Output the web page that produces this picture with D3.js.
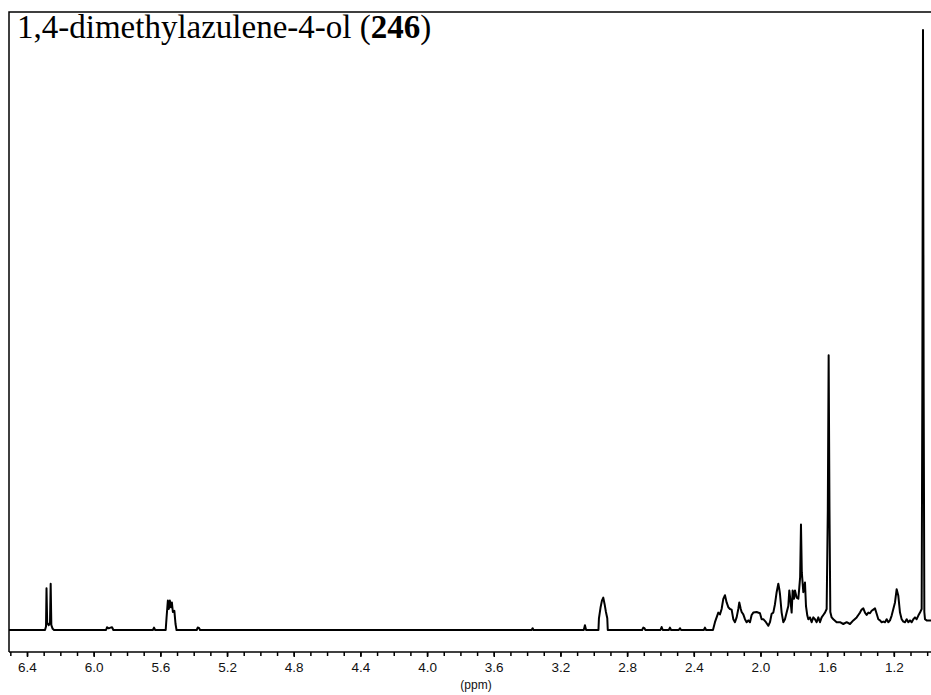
<!DOCTYPE html>
<html>
<head>
<meta charset="utf-8">
<script src="https://cdn.jsdelivr.net/npm/d3@7"></script>
<style>
  html, body { margin: 0; padding: 0; background: #fff; }
  svg { display: block; }
</style>
</head>
<body>
<svg id="chart" width="931" height="695"></svg>
<script>
// ---------- DATA (ppm, relative intensity) ----------
const titlePlain = "1,4-dimethylazulene-4-ol (";
const titleBold = "246";
const titleEnd = ")";
const axisLabel = "(ppm)";
const majorTicks = [6.4, 6.0, 5.6, 5.2, 4.8, 4.4, 4.0, 3.6, 3.2, 2.8, 2.4, 2.0, 1.6, 1.2];
const ppmDomain = [6.508, 0.977];
const intensityDomain = [0, 100];

const olefinicRegion = [
  [6.508,0],[6.292,0],[6.286,0.6],[6.283,6.95],[6.279,1.2],[6.270,0.8],[6.262,1.2],[6.258,7.7],[6.254,0.8],[6.246,0.2],[6.238,0],
  [5.926,0],[5.920,0.45],[5.912,0.3],[5.904,0.35],[5.890,0.45],[5.882,0],
  [5.645,0],[5.638,0.4],[5.631,0],
  [5.568,0],[5.563,2.0],[5.555,4.9],[5.549,3.5],[5.543,4.9],[5.537,3.8],[5.531,4.6],[5.525,3.0],[5.516,3.2],[5.509,1.0],[5.503,0],
  [5.382,0],[5.376,0.4],[5.368,0.35],[5.362,0]
];

const midRegion = [
  [3.373,0],[3.367,0.3],[3.361,0],
  [3.060,0],[3.053,0.8],[3.046,0],
  [2.972,0],[2.969,1.95],[2.959,3.8],[2.951,4.9],[2.943,5.4],[2.935,4.3],[2.927,3.0],[2.919,1.95],[2.916,0],
  [2.710,0],[2.703,0.4],[2.696,0.3],[2.690,0],
  [2.600,0],[2.593,0.5],[2.586,0],
  [2.550,0],[2.543,0.4],[2.536,0],
  [2.490,0],[2.483,0.3],[2.476,0],
  [2.340,0],[2.333,0.4],[2.326,0],
  [2.285,0]
];

const aliphaticRegion = [
  [2.273,1.3],[2.253,2.9],[2.243,2.6],[2.233,3.5],[2.223,5.2],[2.213,5.8],[2.203,4.6],[2.193,3.8],[2.183,3.5],[2.173,3.4],
  [2.163,1.8],[2.153,1.3],[2.143,2.1],[2.133,3.5],[2.127,4.6],[2.119,3.6],[2.113,3.0],[2.103,2.6],[2.093,1.8],[2.083,1.3],
  [2.073,1.6],[2.063,1.3],[2.053,2.5],[2.043,2.9],[2.023,3.0],[2.003,2.8],[1.993,1.8],[1.983,1.8],[1.967,1.3],[1.953,0.7],
  [1.943,1.3],[1.933,2.7],[1.923,2.9],[1.913,4.3],[1.903,6.3],[1.893,7.7],[1.887,6.8],[1.883,6.0],[1.873,2.9],[1.863,1.3],
  [1.853,1.8],[1.843,2.9],[1.833,4.0],[1.827,6.6],[1.819,4.6],[1.813,2.9],[1.807,6.6],[1.799,5.2],[1.793,6.6],[1.783,5.4],
  [1.773,5.2],[1.767,7.1],[1.762,8.8],[1.757,17.6],[1.752,9.6],[1.743,6.3],[1.733,7.9],[1.727,4.0],[1.719,2.4],[1.713,1.8],
  [1.703,2.1],[1.693,1.3],[1.683,2.1],[1.673,1.8],[1.663,1.3],[1.653,2.1],[1.643,1.3],[1.633,2.1],[1.623,2.5],[1.613,2.9],
  [1.603,3.5],[1.596,20],[1.591,45.8],[1.586,20],[1.581,3.0],[1.573,2.1],[1.563,1.8],[1.543,1.3],[1.523,1.3],[1.503,1.0],
  [1.483,1.3],[1.463,1.0],[1.443,1.6],[1.423,2.1],[1.413,2.5],[1.403,2.9],[1.393,3.4],[1.383,3.6],[1.373,2.9],[1.363,2.5],
  [1.353,2.9],[1.343,2.8],[1.333,3.2],[1.323,3.4],[1.313,3.6],[1.303,2.7],[1.293,1.8],[1.283,1.6],[1.273,1.3],[1.263,1.4],
  [1.253,1.3],[1.243,1.8],[1.233,1.3],[1.223,1.6],[1.213,2.4],[1.203,3.5],[1.193,4.6],[1.183,6.8],[1.173,5.7],[1.167,4.0],
  [1.163,2.9],[1.153,1.8],[1.143,1.4],[1.133,1.3],[1.123,1.8],[1.113,1.3],[1.103,1.6],[1.093,1.3],[1.083,1.8],[1.073,2.1],
  [1.063,1.8],[1.053,2.4],[1.043,2.9],[1.033,3.5],[1.029,40],[1.025,100],[1.021,40],[1.017,3.0],[1.013,1.8],[1.003,1.6],
  [0.993,1.6],[0.977,1.6]
];

const spectrum = olefinicRegion.concat(midRegion, aliphaticRegion);

// ---------- LAYOUT ----------
const frame = { left: 9, right: 931, top: 12, bottom: 652 };
const svg = d3.select("#chart");

const x = d3.scaleLinear().domain(ppmDomain).range([frame.left, frame.right]);
const y = d3.scaleLinear().domain(intensityDomain).range([630, 30]);

svg.append("clipPath").attr("id", "clip")
  .append("rect").attr("x", frame.left).attr("y", frame.top)
  .attr("width", frame.right - frame.left).attr("height", frame.bottom - frame.top);

// spectrum
svg.append("path")
  .datum(spectrum)
  .attr("clip-path", "url(#clip)")
  .attr("fill", "none")
  .attr("stroke", "#000")
  .attr("stroke-width", 2)
  .attr("stroke-linejoin", "round")
  .attr("d", d3.line().x(d => x(d[0])).y(d => y(d[1])));

// frame (left + top)
svg.append("path")
  .attr("fill", "none").attr("stroke", "#000").attr("stroke-width", 1.5)
  .attr("d", `M${frame.left},${frame.bottom}V${frame.top}H${frame.right}`);

// axis
const minorTicks = d3.range(65, 9, -1).map(v => v / 10).filter(v => v >= 0.98);
const axisG = svg.append("g").attr("transform", `translate(0,${frame.bottom})`);
axisG.append("g")
  .call(d3.axisBottom(x).tickValues(minorTicks).tickSize(4).tickSizeOuter(0).tickFormat(""))
  .call(g => g.select(".domain").remove())
  .call(g => g.selectAll("line").attr("stroke", "#000").attr("stroke-width", 1.5));
axisG.append("g")
  .call(d3.axisBottom(x).tickValues(majorTicks).tickSize(5).tickSizeOuter(0).tickPadding(5)
    .tickFormat(d3.format(".1f")))
  .call(g => g.select(".domain").remove())
  .call(g => g.selectAll("line").attr("stroke", "#000").attr("stroke-width", 1.5))
  .call(g => g.selectAll("text").attr("fill", "#111")
    .style("font-family", "Liberation Sans, Arial, sans-serif").style("font-size", "13.5px"));
axisG.append("line")
  .attr("x1", frame.left).attr("x2", frame.right).attr("y1", 0).attr("y2", 0)
  .attr("stroke", "#000").attr("stroke-width", 1.5);

svg.append("text")
  .attr("x", 476).attr("y", 689)
  .attr("text-anchor", "middle")
  .style("font-family", "Liberation Sans, Arial, sans-serif").style("font-size", "12px")
  .attr("fill", "#111")
  .text(axisLabel);

// title
const t = svg.append("text")
  .attr("x", 17).attr("y", 38)
  .style("font-family", "Liberation Serif, 'Times New Roman', serif")
  .style("font-size", "33px")
  .attr("fill", "#000");
t.append("tspan").text(titlePlain);
t.append("tspan").style("font-weight", "bold").text(titleBold);
t.append("tspan").text(titleEnd);
</script>
</body>
</html>
